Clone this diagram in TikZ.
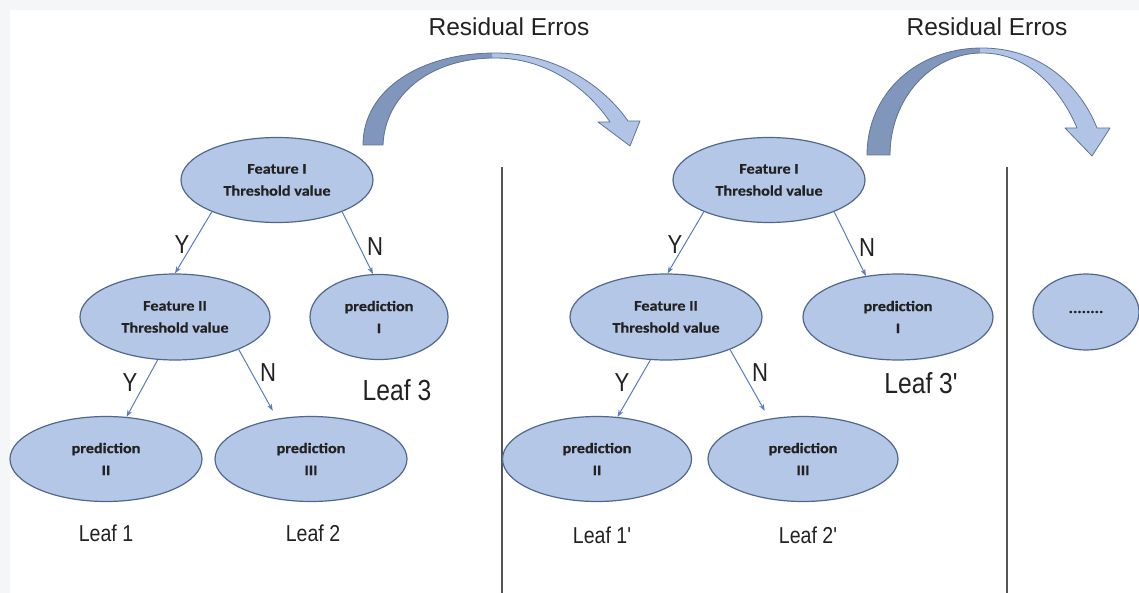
\documentclass[tikz,border=0pt]{standalone}
\usepackage{fontspec}
\setmainfont{Liberation Sans}
\newfontfamily\elfont{Carlito}[FakeStretch=1.12,FakeBold=0.6]
\newfontfamily\labfont{Liberation Sans}[FakeStretch=0.85]
\usetikzlibrary{shapes.geometric,arrows.meta}
\definecolor{fillc}{HTML}{B4C7E7}
\definecolor{edgec}{HTML}{51678F}
\definecolor{arrc}{HTML}{5B7BBE}
\definecolor{darkarr}{HTML}{8196BB}
\definecolor{lightarr}{HTML}{B1C4E6}
\definecolor{arrline}{HTML}{5F7399}
\definecolor{bgc}{HTML}{F5F6F8}
\definecolor{txt}{HTML}{222222}
\definecolor{sepc}{HTML}{555555}
\tikzset{
  ell/.style={ellipse, draw=edgec, line width=1.2pt, fill=fillc, inner sep=0pt,
    align=center, text=txt, font=\elfont\bfseries\fontsize{14.5}{22}\selectfont},
  conn/.style={draw=arrc, line width=1pt, -{Stealth[length=7pt,width=5pt]}},
  yn/.style={text=txt, font=\labfont\fontsize{26}{26}\selectfont, inner sep=0pt},
  leafbig/.style={text=txt, font=\labfont\fontsize{29}{29}\selectfont, inner sep=0pt},
  leafsmall/.style={text=txt, font=\labfont\fontsize{23}{23}\selectfont, inner sep=0pt},
  title/.style={text=txt, font=\fontsize{24.5}{24.5}\selectfont, inner sep=0pt},
  sep/.style={draw=sepc, line width=1.5pt},
  curved/.style={draw=arrline, line width=0.8pt, line join=round}
}
\newcommand\arrowA{(363,145) .. controls (363,90) and (420,53) .. (495,53)
  .. controls (555,53) and (603,85) .. (628,121) -- (640,121) -- (630,146) -- (598,122) -- (610,122)
  .. controls (590,92) and (550,58) .. (495,58) .. controls (430,58) and (385,95) .. (383,145) -- cycle}
\newcommand\arrowB{(867,155) .. controls (867,95) and (915,48) .. (982,48)
  .. controls (1040,48) and (1080,85) .. (1097,128) -- (1110,128) -- (1092,156) -- (1065,128) -- (1077,128)
  .. controls (1062,92) and (1030,53) .. (982,53) .. controls (930,53) and (890,100) .. (890,155) -- cycle}
\begin{document}
\begin{tikzpicture}[x=1pt,y=-1pt]
\useasboundingbox (0,0) rectangle (1139,593);
\fill[bgc] (0,0) rectangle (1139,593);
\fill[white] (10,10) rectangle (1139,593);

% curved arrows
\fill[lightarr] \arrowA;
\begin{scope}\clip (300,0) rectangle (492,200); \fill[darkarr] \arrowA; \end{scope}
\draw[curved] \arrowA;
\fill[lightarr] \arrowB;
\begin{scope}\clip (800,0) rectangle (980,200); \fill[darkarr] \arrowB; \end{scope}
\draw[curved] \arrowB;

\node[title] (r1) at (509,27) {Residual Erros};
\node[title] (r2) at (987,27) {Residual Erros};

% separators
\coordinate (s1t) at (502,167); \coordinate (s1b) at (502,593);
\coordinate (s2t) at (1007,167); \coordinate (s2b) at (1007,593);
\draw[sep] (s1t) -- (s1b);
\draw[sep] (s2t) -- (s2b);

% tree 1
\node[ell, minimum width=192pt, minimum height=85pt] (f1) at (277,180) {Feature I\\Threshold value};
\node[ell, minimum width=190pt, minimum height=86pt] (f2) at (175,317) {Feature II\\Threshold value};
\node[ell, minimum width=138pt, minimum height=85pt] (pI) at (379,317) {prediction\\I};
\node[ell, minimum width=192pt, minimum height=85pt] (p2) at (106,459) {prediction\\II};
\node[ell, minimum width=192pt, minimum height=85pt] (p3) at (311,459) {prediction\\III};

\draw[conn] (f1.206) -- (f2.90);
\draw[conn] (f1.334) -- (pI.98);
\draw[conn] (f2.248) -- (p2.64);
\draw[conn, shorten >=9pt] (f2.333) -- (p3.130);

\node[yn] (y1) at (182,245) {Y};
\node[yn] (n1) at (375,247) {N};
\node[yn] (y2) at (130,383) {Y};
\node[yn] (n2) at (268,373) {N};
\node[leafbig] (l3) at (397,390) {Leaf 3};
\node[leafsmall] (l1) at (106,533) {Leaf 1};
\node[leafsmall] (l2) at (313,533) {Leaf 2};

% tree 2
\node[ell, minimum width=192pt, minimum height=85pt] (g1) at (769,180) {Feature I\\Threshold value};
\node[ell, minimum width=192pt, minimum height=86pt] (g2) at (666,317) {Feature II\\Threshold value};
\node[ell, minimum width=190pt, minimum height=86pt] (qI) at (898,317) {prediction\\I};
\node[ell, minimum width=189pt, minimum height=85pt] (q2) at (597,459) {prediction\\II};
\node[ell, minimum width=190pt, minimum height=85pt] (q3) at (803,459) {prediction\\III};

\draw[conn] (g1.206) -- (g2.88);
\draw[conn] (g1.334) -- (qI.128);
\draw[conn] (g2.250) -- (q2.64);
\draw[conn, shorten >=9pt] (g2.333) -- (q3.130);

\node[yn] (y3) at (675,245) {Y};
\node[yn] (n3) at (867,248) {N};
\node[yn] (y4) at (622,383) {Y};
\node[yn] (n4) at (760,373) {N};
\node[leafbig] (l3b) at (921,383) {Leaf 3'};
\node[leafsmall] (l1b) at (602,535) {Leaf 1'};
\node[leafsmall] (l2b) at (808,535) {Leaf 2'};

% third stage
\node[ell, minimum width=106pt, minimum height=76pt] (dots) at (1086,312) {........};
\end{tikzpicture}
\end{document}
